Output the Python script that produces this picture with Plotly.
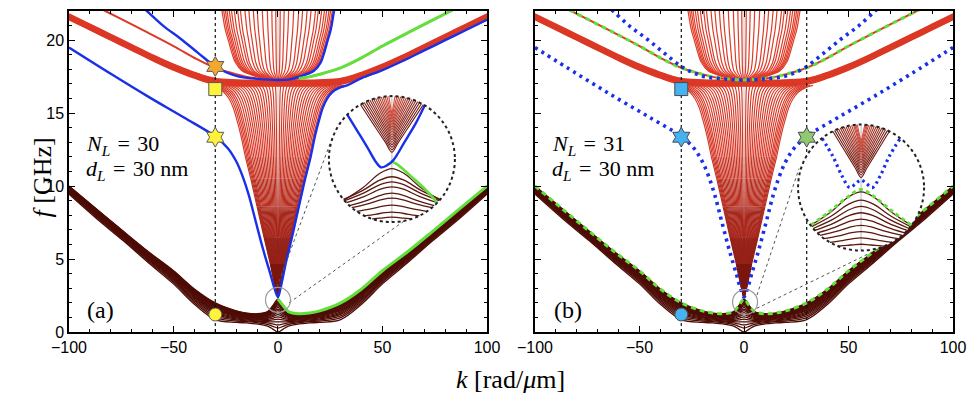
import numpy as np
import plotly.graph_objects as go

# ---------------- values ----------------
K_RANGE = [-100, 100]
F_RANGE = [0, 22]
X_TICKS = [-100, -50, 0, 50, 100]
X_TICK_TEXT = ['\u2212100', '\u221250', '0', '50', '100']
Y_TICKS = [0, 5, 10, 15, 20]

# lowest (dark) group of modes: envelopes, k >= 0 (mirror symmetric)
DARK_K = [0, 2.5, 5, 10, 15, 20, 30, 40, 50, 62, 74, 87, 100]
DARK_TOP = [2.25, 1.8, 1.4, 1.25, 1.3, 1.45, 2.0, 2.95, 4.2, 5.5, 6.9, 8.45, 10.0]
DARK_BOT = [0.0, 0.2, 0.4, 0.55, 0.62, 0.66, 0.85, 1.9, 3.3, 4.75, 6.25, 7.8, 9.45]
DARK_POS = [0, 0.12, 0.22, 0.31, 0.39, 0.46, 0.53, 0.59, 0.65, 0.7, 0.75,
            0.8, 0.84, 0.88, 0.91, 0.94, 0.97, 1.0]

# lower funnel (outermost mode, right half) and relative widths of the others
FUN_F = [2.4, 3.0, 4.7, 6.5, 8.6, 10.5, 12.0, 13.5, 14.5, 15.4, 16.0, 16.45, 16.75, 16.9]
FUN_K = [0, 1.2, 3.7, 6.7, 10.0, 13.0, 15.6, 17.8, 19.6, 21.5, 23.5, 26.0, 29.5, 33.0]
FUN_SCALE = [0.04, 0.09, 0.14, 0.19, 0.24, 0.29, 0.34, 0.39, 0.44, 0.49, 0.54,
             0.59, 0.64, 0.69, 0.74, 0.79, 0.84, 0.88, 0.92, 0.96, 1.0]

# flat / rising band near 17 GHz (lower edge) and its spread
BAND_K = [0, 10, 20, 30, 40, 50, 60, 70, 80, 90, 100]
BAND_F = [16.85, 16.86, 16.88, 16.98, 17.4, 17.95, 18.6, 19.3, 20.0, 20.7, 21.4]
BAND_OFFSET = [0, 0.04, 0.08, 0.12, 0.16, 0.2, 0.24, 0.28, 0.32, 0.36, 0.4]

# upper U family (outermost, right half) and relative widths
U_F = [17.25, 17.3, 17.5, 17.9, 18.5, 19.1, 20.0, 20.7, 21.4, 22.4]
U_K = [0, 5, 10, 17.2, 20.5, 22, 23.8, 25.2, 26.1, 27.2]
U_SCALE = [0.04, 0.11, 0.19, 0.28, 0.37, 0.44, 0.52, 0.59, 0.67, 0.72, 0.78,
           0.83, 0.87, 0.91, 0.94, 0.97, 1.0]

# single upper parabola-like mode (right half)
P_K = [0, 10, 16, 22.8, 30, 38.8, 50, 62.7, 82.6, 95]
P_F = [17.28, 17.38, 17.52, 17.78, 18.1, 18.7, 19.6, 20.55, 22.0, 22.9]

# highlighted (blue) modes, left half
BLUE_UP_K = [-66, -62.7, -55, -46.6, -38, -30, -24, -18.7, -10, 0]
BLUE_UP_F = [22.4, 22, 21.0, 20.1, 19.1, 18.2, 17.75, 17.5, 17.35, 17.27]
BLUE_LO_K = [-100, -80, -61.7, -45, -30, -24, -20, -17, -14, -10.7, -7, -3.5, -1.5, 0]
BLUE_LO_F = [19.5, 17.7, 16.1, 14.7, 13.4, 12.6, 11.7, 10.7, 9.4, 7.6, 5.6, 3.9, 2.9, 2.4]

# markers at k = -30 (and +30 in b)
MARK_K = -30
MARK_A_F = [18.2, 16.65, 13.35, 1.2]
MARK_A_SYM = ['hexagram', 'square', 'hexagram', 'circle']
MARK_A_COL = ['#f2a82e', '#fff23a', '#fff23a', '#fff23a']
MARK_B_K = [-30, -30, 30, -30]
MARK_B_F = [16.65, 13.35, 13.35, 1.2]
MARK_B_SYM = ['square', 'hexagram', 'hexagram', 'circle']
MARK_B_COL = ['#45b2f2', '#45b2f2', '#8fca72', '#45b2f2']
VLINES_B = [-30, 30]

# zoom insets (normalized circle coordinates u, v in [-1, 1])
INSET_A_C = (54.5, 11.85)
INSET_B_C = (56.0, 9.9)
SMALL_A_C = (0.0, 2.2)
SMALL_B_C = (0.5, 2.05)
LINK_A = [[(-0.5, 3.08), (25.2, 13.03)], [(5.3, 2.0), (60.3, 7.6)]]
LINK_B = [[(6.2, 2.53), (26.3, 11.2)], [(6.1, 1.62), (65.1, 5.75)]]

INSET_A_V_APEX = [0.11, 0.15, 0.19, 0.23, 0.27, 0.31, 0.35, 0.39, 0.43, 0.47, 0.51, 0.55, 0.59, 0.63, 0.67, 0.71]
INSET_A_V_END = [0.50, 0.47, 0.44, 0.41, 0.38, 0.35, 0.32, 0.29, 0.26, 0.23, 0.20, 0.17, 0.14, 0.11, 0.08, 0.05]
INSET_A_BUMP_P = [-0.15, -0.28, -0.36, -0.44, -0.54, -0.62, -0.73, -0.84, -0.92]
INSET_A_BUMP_D = [0.5, 0.36, 0.3, 0.25, 0.2, 0.15, 0.1, 0.06, 0.03]
INSET_A_BLUE_U = [-0.71, -0.55, -0.38, -0.25, -0.17, -0.08, 0.02, 0.2, 0.38, 0.52]
INSET_A_BLUE_V = [0.71, 0.45, 0.17, -0.05, -0.13, -0.1, -0.02, 0.27, 0.57, 0.85]
INSET_A_GREEN_U = [0.0, 0.08, 0.3, 0.5, 0.72]
INSET_A_GREEN_V = [-0.04, -0.08, -0.27, -0.45, -0.69]

INSET_B_V_APEX = [0.16, 0.2, 0.24, 0.28, 0.32, 0.36, 0.4, 0.44, 0.48, 0.52, 0.56, 0.6, 0.64, 0.68, 0.72]
INSET_B_V_END = [0.45, 0.42, 0.39, 0.36, 0.33, 0.30, 0.27, 0.24, 0.21, 0.18, 0.15, 0.12, 0.10, 0.08, 0.06]
INSET_B_BUMP_P = [-0.07, -0.2, -0.3, -0.4, -0.5, -0.6, -0.7, -0.8, -0.9]
INSET_B_BUMP_D = [0.53, 0.42, 0.35, 0.28, 0.22, 0.16, 0.11, 0.07, 0.03]
INSET_B_BLUE_U = [-0.62, -0.45, -0.3, -0.18, -0.08, 0.0, 0.08, 0.18, 0.3, 0.45, 0.62]
INSET_B_BLUE_V = [0.78, 0.5, 0.18, 0.0, 0.07, 0.12, 0.07, 0.0, 0.18, 0.5, 0.78]
INSET_B_GREEN_U = [-0.8, -0.5, -0.2, 0.0, 0.2, 0.5, 0.8]
INSET_B_GREEN_V = [-0.6, -0.38, -0.14, -0.03, -0.14, -0.38, -0.6]

# ---------------- layout geometry ----------------
W, H = 973, 396
X_DOM_A = [0.0709, 0.5005]
X_DOM_B = [0.5498, 0.9795]
Y_DOM = [0.1616, 0.9722]
PX_K = (X_DOM_A[1] - X_DOM_A[0]) * W / (K_RANGE[1] - K_RANGE[0])
PX_F = (Y_DOM[1] - Y_DOM[0]) * H / (F_RANGE[1] - F_RANGE[0])
R_IN = 63.0
RK, RF = R_IN / PX_K, R_IN / PX_F
R_SMALL = 12.5

RED = '#dc3826'
RED_U = '#e03b28'
DARK = '#4e0c06'
BLUE = '#1a30e8'
GREEN = '#62e03a'
FUN_BINS = [(0, 2), (2, 3), (3, 4), (4, 5), (5, 6), (6, len(FUN_F) - 1)]
FUN_COLORS = ['#7e170e', '#952017', '#a8261a', '#b82b1d', '#c83121', '#d93725']

fig = go.Figure()
AX = {'a': ('x', 'y'), 'b': ('x2', 'y2')}


def add(panel, xs, ys, color, width, dash=None, shape='spline'):
    xa, ya = AX[panel]
    fig.add_trace(go.Scatter(x=xs, y=ys, mode='lines', xaxis=xa, yaxis=ya,
                             line=dict(color=color, width=width, dash=dash, shape=shape),
                             hoverinfo='skip', showlegend=False))


def sym(ks, fs):
    ks, fs = list(ks), list(fs)
    return [-v for v in ks[:0:-1]] + ks, fs[:0:-1] + fs


def join(curves):
    X, Y = [], []
    for xs, ys in curves:
        X += list(xs) + [None]
        Y += list(ys) + [None]
    return X, Y


def mix(c1, c2, t):
    a = np.array([int(c1[i:i + 2], 16) for i in (1, 3, 5)])
    b = np.array([int(c2[i:i + 2], 16) for i in (1, 3, 5)])
    c = (a + (b - a) * t).round().astype(int)
    return '#%02x%02x%02x' % tuple(c)


for p in ('a', 'b'):
    # k = 0 guide line
    add(p, [0, 0], F_RANGE, '#c8c8c8', 1, shape='linear')
    # dark lowest group
    top, bot = np.array(DARK_TOP), np.array(DARK_BOT)
    add(p, *join([sym(DARK_K, bot + t * (top - bot)) for t in DARK_POS]), DARK, 1.3)
    # lower funnel, coloured by height
    for (i0, i1), col in zip(FUN_BINS, FUN_COLORS):
        curves = []
        for s in FUN_SCALE:
            ks = [s * v for v in FUN_K]
            if i0 == 0:
                curves.append(sym(ks[:i1 + 1], FUN_F[:i1 + 1]))
            else:
                curves.append((ks[i0:i1 + 1], FUN_F[i0:i1 + 1]))
                curves.append(([-v for v in ks[i0:i1 + 1]], FUN_F[i0:i1 + 1]))
        add(p, *join(curves), col, 1.15)
    # band
    add(p, *join([sym(BAND_K, [v + o for v in BAND_F]) for o in BAND_OFFSET]), RED, 1.4)
    # U family
    add(p, *join([sym([s * v for v in U_K], U_F) for s in U_SCALE]), RED_U, 1.2)
    # single upper mode
    add(p, *sym(P_K, P_F), RED, 2.0)

# ---- panel (a) highlighted modes ----
bk = BLUE_UP_K + U_K[1:]
bf = BLUE_UP_F + U_F[1:]
add('a', bk, bf, BLUE, 2.4)
band_k_out = [k for k in BAND_K if k > FUN_K[-1]]
band_f_out = [f for k, f in zip(BAND_K, BAND_F) if k > FUN_K[-1]]
add('a', BLUE_LO_K + FUN_K[1:] + band_k_out, BLUE_LO_F + FUN_F[1:] + band_f_out, BLUE, 2.4)
gk = [k for k in P_K if k >= 10]
gf = [f for k, f in zip(P_K, P_F) if k >= 10]
add('a', gk, gf, GREEN, 3.0)
add('a', DARK_K, DARK_TOP, GREEN, 3.0)

# ---- panel (b) highlighted modes (dotted / dashed) ----
BDOT = '3px,4.5px'
GDASH = '5px,4px'
add('b', *sym(P_K, P_F), GREEN, 3.0, dash=GDASH)
add('b', *sym(DARK_K, DARK_TOP), GREEN, 3.0, dash=GDASH)
upk = [-v for v in BLUE_UP_K[::-1]]
add('b', BLUE_UP_K + upk[1:], BLUE_UP_F + BLUE_UP_F[::-1][1:], BLUE, 3.6, dash=BDOT)
lok = [-v for v in BLUE_LO_K[::-1]]
add('b', BLUE_LO_K + lok[1:], BLUE_LO_F + BLUE_LO_F[::-1][1:], BLUE, 3.6, dash=BDOT)

# vertical reference lines
add('a', [MARK_K, MARK_K], F_RANGE, '#111', 1.2, dash='dot', shape='linear')
for vk in VLINES_B:
    add('b', [vk, vk], F_RANGE, '#111', 1.2, dash='dot', shape='linear')

# link lines
for p, links in (('a', LINK_A), ('b', LINK_B)):
    for (k0, f0), (k1, f1) in links:
        add(p, [k0, k1], [f0, f1], '#555', 1.0, dash='dot', shape='linear')

# markers
fig.add_trace(go.Scatter(x=[MARK_K] * len(MARK_A_F), y=MARK_A_F, mode='markers',
                         xaxis='x', yaxis='y', hoverinfo='skip', showlegend=False,
                         marker=dict(symbol=MARK_A_SYM, color=MARK_A_COL, opacity=1,
                                     size=[15, 13, 15, 13],
                                     line=dict(color='#5a5a5a', width=1))))
fig.add_trace(go.Scatter(x=MARK_B_K, y=MARK_B_F, mode='markers',
                         xaxis='x2', yaxis='y2', hoverinfo='skip', showlegend=False,
                         marker=dict(symbol=MARK_B_SYM, color=MARK_B_COL, opacity=1,
                                     size=[13, 15, 15, 13],
                                     line=dict(color='#4a4a4a', width=1))))


# ---- insets ----
def to_data(c, us, vs):
    return [c[0] + u * RK for u in us], [c[1] + v * RF for v in vs]


def inset(p, c, apex, ends, bp, bd, blue_u, blue_v, green_u, green_v, dotted):
    th = np.linspace(0, 2 * np.pi, 121)
    xa, ya = AX[p]
    fig.add_trace(go.Scatter(x=c[0] + RK * np.cos(th), y=c[1] + RF * np.sin(th),
                             mode='lines', fill='toself', fillcolor='white',
                             line=dict(width=0, color='white'), xaxis=xa, yaxis=ya,
                             hoverinfo='skip', showlegend=False))
    add(p, *to_data(c, [0, 0], [-1, 1]), '#b0b0b0', 0.9, shape='linear')
    # bumps (lower group, magnified)
    curves = []
    for pk, d in zip(bp, bd):
        e = float(np.sqrt(max(0.0, 1 - (pk - d) ** 2)))
        us = [-e, -0.6 * e, -0.25 * e, 0, 0.25 * e, 0.6 * e, e]
        g = [1, 0.6, 0.15, 0, 0.15, 0.6, 1]
        curves.append(to_data(c, us, [pk - d * gg for gg in g]))
    add(p, *join(curves), '#5a1810', 1.3)
    # V family (funnel tip, magnified)
    n = len(apex)
    for i, (a, e) in enumerate(zip(apex, ends)):
        ve = float(np.sqrt(1 - e * e))
        us = [-e, -0.6 * e, -0.2 * e, 0, 0.2 * e, 0.6 * e, e]
        vs = [a + (ve - a) * abs(u) / e for u in us]
        add(p, *to_data(c, us, vs), mix('#6e1a12', '#d4503e', i / (n - 1)), 1.1)
    if dotted:
        add(p, *to_data(c, green_u, green_v), GREEN, 3.0, dash='4px,3.5px')
        add(p, *to_data(c, blue_u, blue_v), BLUE, 3.2, dash='2.5px,3.5px')
    else:
        add(p, *to_data(c, green_u, green_v), GREEN, 2.6)
        add(p, *to_data(c, blue_u, blue_v), BLUE, 2.4)


inset('a', INSET_A_C, INSET_A_V_APEX, INSET_A_V_END, INSET_A_BUMP_P, INSET_A_BUMP_D,
      INSET_A_BLUE_U, INSET_A_BLUE_V, INSET_A_GREEN_U, INSET_A_GREEN_V, False)
inset('b', INSET_B_C, INSET_B_V_APEX, INSET_B_V_END, INSET_B_BUMP_P, INSET_B_BUMP_D,
      INSET_B_BLUE_U, INSET_B_BLUE_V, INSET_B_GREEN_U, INSET_B_GREEN_V, True)

shapes = []
for xr, yr, c, sc in (('x', 'y', INSET_A_C, SMALL_A_C), ('x2', 'y2', INSET_B_C, SMALL_B_C)):
    shapes.append(dict(type='circle', xref=xr, yref=yr, x0=c[0] - RK, x1=c[0] + RK,
                       y0=c[1] - RF, y1=c[1] + RF, line=dict(color='#222', width=2, dash='dot')))
    rk, rf = R_SMALL / PX_K, R_SMALL / PX_F
    shapes.append(dict(type='circle', xref=xr, yref=yr, x0=sc[0] - rk, x1=sc[0] + rk,
                       y0=sc[1] - rf, y1=sc[1] + rf, line=dict(color='#9a9a9a', width=1.2)))

# ---------------- axes & text ----------------
TICKFONT = dict(family='Liberation Sans, Arial, sans-serif', size=16, color='black')
SERIF = 'Liberation Serif, Times New Roman, serif'


def xaxis(dom, anchor):
    return dict(domain=dom, range=K_RANGE, anchor=anchor, tickvals=X_TICKS, ticktext=X_TICK_TEXT,
                ticks='inside', ticklen=6, tickwidth=1.2, tickcolor='black', mirror='allticks',
                showline=True, linecolor='black', linewidth=1.5, showgrid=False, zeroline=False,
                automargin=False,
                tickfont=TICKFONT, minor=dict(dtick=10, ticklen=3, ticks='inside', tickcolor='black'))


def yaxis(anchor, labels):
    return dict(domain=Y_DOM, range=F_RANGE, anchor=anchor, tickvals=Y_TICKS,
                showticklabels=labels, automargin=False,
                ticks='inside', ticklen=6, tickwidth=1.2, tickcolor='black', mirror='allticks',
                showline=True, linecolor='black', linewidth=1.5, showgrid=False, zeroline=False,
                tickfont=TICKFONT, minor=dict(dtick=1, ticklen=3, ticks='inside', tickcolor='black'))


def px(x, y):
    return x / W, 1 - y / H


SP = '\u2004'
ann = []
for (x, y), txt in (
        (px(84, 145), '<i>N</i><sub><i>L</i></sub>' + SP + '=' + SP + '30'),
        (px(84, 170), '<i>d</i><sub><i>L</i></sub>' + SP + '=' + SP + '30 nm'),
        (px(550, 145), '<i>N</i><sub><i>L</i></sub>' + SP + '=' + SP + '31'),
        (px(550, 170), '<i>d</i><sub><i>L</i></sub>' + SP + '=' + SP + '30 nm')):
    ann.append(dict(x=x, y=y, xref='paper', yref='paper', text=txt, showarrow=False,
                    xanchor='left', yanchor='middle', font=dict(family=SERIF, size=22, color='black')))
for (x, y), txt in ((px(100, 310), '(a)'), (px(568, 310), '(b)')):
    ann.append(dict(x=x, y=y, xref='paper', yref='paper', text=txt, showarrow=False,
                    xanchor='center', yanchor='middle', font=dict(family=SERIF, size=24, color='black')))
xx, yy = px(510, 396)
ann.append(dict(x=xx, y=yy, xref='paper', yref='paper', text='<i>k</i> [rad/<i>\u03bc</i>m]',
                showarrow=False, yanchor='bottom', font=dict(family=SERIF, size=26, color='black')))
xx, yy = px(25, 178)
ann.append(dict(x=xx, y=yy, xref='paper', yref='paper', text='<i>f</i> [GHz]', textangle=-90,
                showarrow=False, font=dict(family=SERIF, size=26, color='black')))

fig.update_layout(
    width=W, height=H, margin=dict(l=0, r=0, t=0, b=0, autoexpand=False),
    paper_bgcolor='white', plot_bgcolor='white', hovermode=False, showlegend=False,
    xaxis=xaxis(X_DOM_A, 'y'), yaxis=yaxis('x', True),
    xaxis2=xaxis(X_DOM_B, 'y2'), yaxis2=yaxis('x2', False),
    shapes=shapes, annotations=ann,
)
fig.write_html('out.html', config={'displayModeBar': False},
               post_script="document.body.style.margin='0';document.body.style.overflow='hidden';")
